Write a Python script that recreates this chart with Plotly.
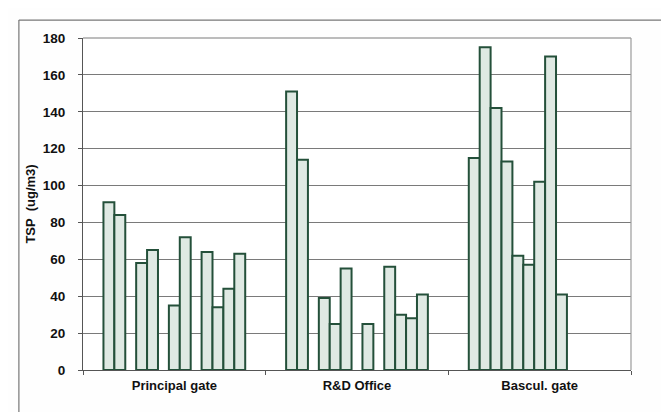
import plotly.graph_objects as go

categories = ["Principal gate", "R&D Office", "Bascul. gate"]

# 13 sampling slots per site (None = no measurement)
series_values = [
    [91, 151, 115],
    [84, 114, 175],
    [None, None, 142],
    [58, 39, 113],
    [65, 25, 62],
    [None, 55, 57],
    [35, None, 102],
    [72, 25, 170],
    [None, None, 41],
    [64, 56, None],
    [34, 30, None],
    [44, 28, None],
    [63, 41, None],
]

y_ticks = [0, 20, 40, 60, 80, 100, 120, 140, 160, 180]

fig = go.Figure()
for i, vals in enumerate(series_values):
    fig.add_trace(go.Bar(
        x=categories, y=vals, name=f"S{i+1}",
        marker=dict(color="#dfe9e3", line=dict(color="#24503a", width=2)),
        showlegend=False,
    ))

font = "Liberation Sans, Arial, sans-serif"
fig.update_layout(
    width=669, height=412,
    margin=dict(l=75, r=46, t=30, b=50),
    paper_bgcolor="#fefefe", plot_bgcolor="#ffffff",
    barmode="group", bargap=0.224, bargroupgap=0,
    font=dict(family=font, color="#111111"),
    xaxis=dict(
        showgrid=False, showline=True, linecolor="#555555", linewidth=1.2,
        ticks="outside", ticklen=4, tickcolor="#555555", tickson="boundaries",
        tickfont=dict(size=13, family=font, weight="bold"),
        ticklabelstandoff=3, mirror=False,
    ),
    yaxis=dict(
        range=[0, 180], tickvals=y_ticks, ticktext=[str(v) for v in y_ticks],
        showgrid=True, gridcolor="#7a7a7a", gridwidth=1,
        showline=True, linecolor="#555555", linewidth=1.2,
        ticks="outside", ticklen=4, tickcolor="#555555",
        tickfont=dict(size=13.5, family=font, weight="bold"),
        ticklabelstandoff=10, zeroline=False,
        title=dict(text="TSP  (ug/m3)", font=dict(size=13, family=font, weight="bold"), standoff=4),
    ),
    shapes=[
        # plot frame top/right
        dict(type="line", xref="paper", yref="paper", x0=0, x1=1, y0=1, y1=1,
             line=dict(color="#7a7a7a", width=1.2)),
        dict(type="line", xref="paper", yref="paper", x0=1, x1=1, y0=0, y1=1,
             line=dict(color="#9a9a9a", width=1.2)),
        # outer chart border
        dict(type="line", xref="paper", yref="paper", x0=-0.117, x1=1.12, y0=1.054, y1=1.054,
             line=dict(color="#777777", width=1.2)),
        dict(type="line", xref="paper", yref="paper", x0=-0.117, x1=-0.117, y0=-0.17, y1=1.054,
             line=dict(color="#777777", width=1.2)),
    ],
)

fig.write_html("out.html")
